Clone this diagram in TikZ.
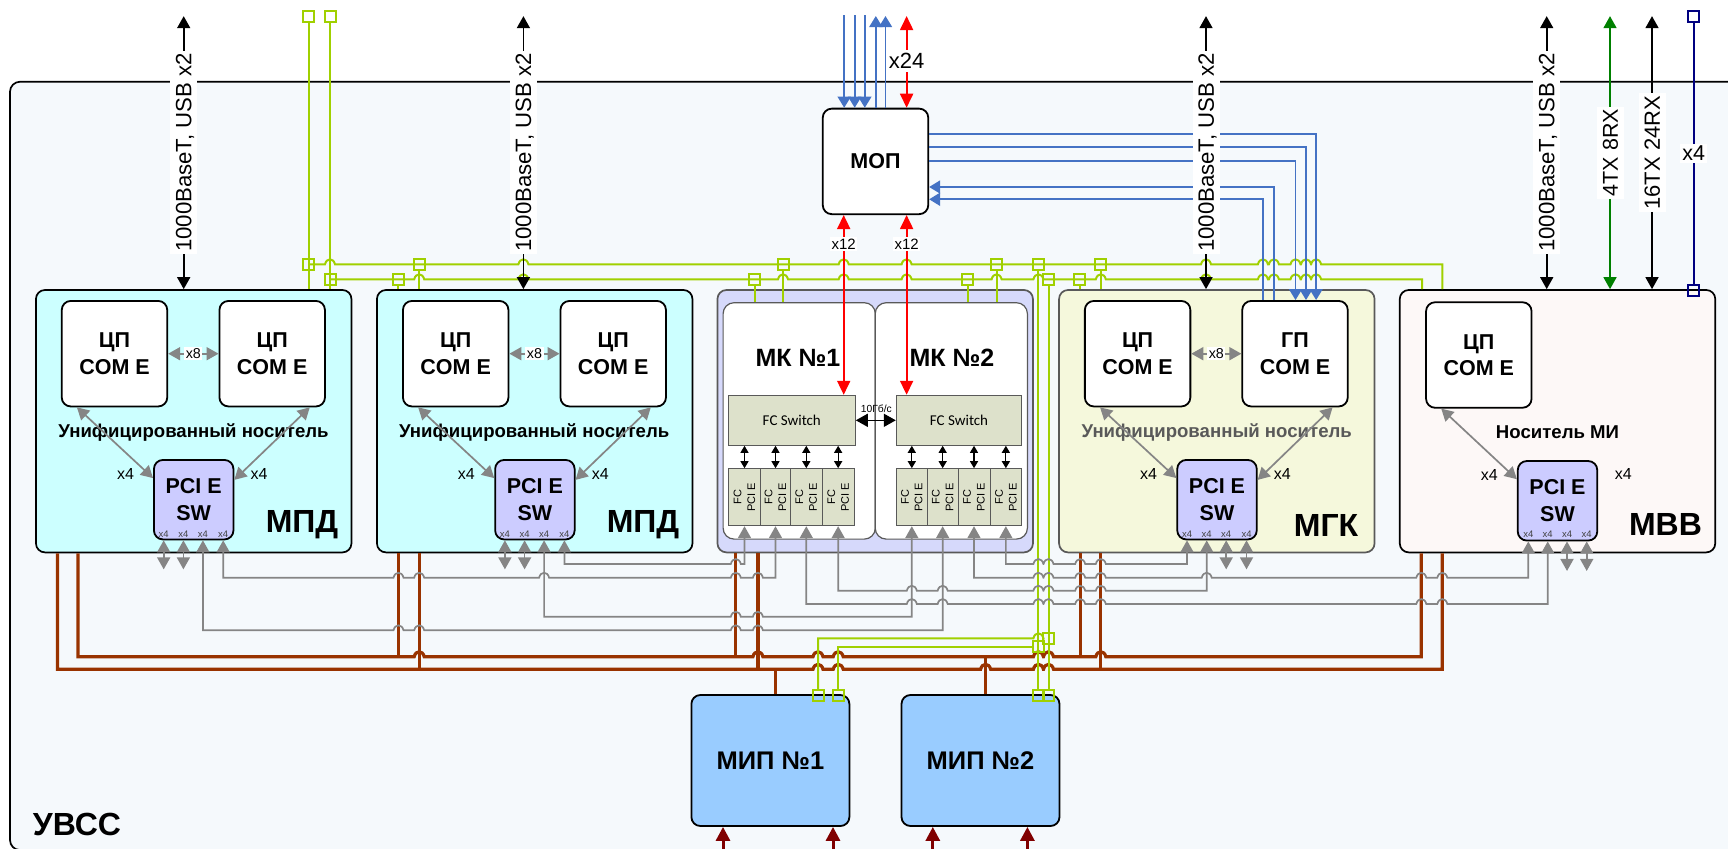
\documentclass[tikz,border=0pt]{standalone}
\usepackage{fontspec}
\setmainfont{Liberation Sans}
\newfontfamily\fcfont{Carlito}
\usetikzlibrary{arrows.meta}
\definecolor{sysfill}{HTML}{F5F9FC}
\definecolor{mpdfill}{HTML}{CCFFFF}
\definecolor{mkfill}{HTML}{D6D9FB}
\definecolor{mgkfill}{HTML}{F5F8DC}
\definecolor{mvvfill}{HTML}{FDF8F7}
\definecolor{mipfill}{HTML}{99CCFF}
\definecolor{swfill}{HTML}{CCCCFF}
\definecolor{fcfill}{HTML}{DDE1CB}
\definecolor{bordgray}{HTML}{595959}
\definecolor{linegray}{HTML}{858585}
\definecolor{linegreen}{HTML}{A0D000}
\definecolor{linebrown}{HTML}{993300}
\definecolor{lineblue}{HTML}{4472C4}
\definecolor{linedkgreen}{HTML}{008000}
\definecolor{linedkred}{HTML}{800000}
% hops of a horizontal line: y, then x of each crossing
\newcommand{\hops}[2]{\foreach \h in {#2} {-- (\h-5,#1) .. controls (\h-3.5,#1-6.6) and (\h+3.5,#1-6.6) .. (\h+5,#1)}}
\tikzset{
  sysbox/.style={draw=black, fill=sysfill, line width=1.7pt, rounded corners=10pt, minimum width=1730, minimum height=768.3},
  modbox/.style={draw=black, line width=1.7pt, rounded corners=9pt, minimum width=315.5, minimum height=262.4, inner sep=0pt},
  cpubox/.style={draw=black, fill=white, line width=1.8pt, rounded corners=9pt, minimum width=105.5, minimum height=105.5, inner sep=0pt, align=center, font=\bfseries\fontsize{21.5}{26.5}\selectfont},
  swbox/.style={draw=black, fill=swfill, line width=1.8pt, rounded corners=9pt, minimum width=79.5, minimum height=79.5, inner sep=0pt, align=center, font=\bfseries\fontsize{21.5}{27}\selectfont},
  mipbox/.style={draw=black, fill=mipfill, line width=1.8pt, rounded corners=9pt, minimum width=158, minimum height=131, inner sep=0pt, align=center, font=\bfseries\fontsize{25.5}{30}\selectfont},
  mkinner/.style={draw=bordgray, fill=white, line width=1.2pt, rounded corners=11pt, minimum width=152.2, minimum height=236.4, inner sep=0pt},
  fsbox/.style={draw=bordgray, fill=fcfill, line width=1pt, minimum height=50, inner sep=0pt, font=\fcfont\fontsize{15}{17}\selectfont},
  fccell/.style={draw=bordgray, fill=fcfill, line width=1pt, rotate=90, minimum width=57, inner sep=0pt, align=center, font=\fontsize{11}{13.7}\selectfont},
  modname/.style={font=\bfseries\fontsize{32}{36}\selectfont, inner sep=0pt},
  mkname/.style={font=\bfseries\fontsize{25}{30}\selectfont, inner sep=0pt},
  carrier/.style={font=\bfseries\fontsize{18.6}{21}\selectfont, inner sep=0pt},
  xside/.style={font=\fontsize{16}{18}\selectfont, inner sep=0pt},
  xtiny/.style={text=black!75, font=\fontsize{9.5}{10}\selectfont, inner sep=0pt},
  xwhite/.style={fill=white, inner sep=1.5pt, font=\fontsize{14.3}{16}\selectfont},
  extlabel/.style={fill=white, rotate=90, inner xsep=2.5pt, inner ysep=0pt, minimum height=27, text height=15.5pt, text depth=0pt, font=\fontsize{21.5}{24}\selectfont},
  grayline/.style={draw=linegray, line width=1.7pt, >={Triangle[length=12pt,width=13pt]}},
  greenline/.style={draw=linegreen, line width=2pt},
  gsq/.style={draw=linegreen, line width=2pt, minimum size=11, inner sep=0pt},
  nsq/.style={draw=blue!50!black, line width=1.8pt, minimum size=11, inner sep=0pt},
  brownline/.style={draw=linebrown, line width=3.2pt},
  blueline/.style={draw=lineblue, line width=1.7pt, >={Triangle[length=11pt,width=13pt]}},
  redline/.style={draw=red, line width=1.8pt, >={Triangle[length=14pt,width=13pt]}},
  blackline/.style={draw=black, line width=1.6pt, >={Triangle[length=12pt,width=13pt]}},
  fcarrow/.style={draw=black, line width=1.2pt, >={Triangle[length=7pt,width=8pt]}},
  dkredline/.style={draw=linedkred, line width=3pt, >={Triangle[length=14pt,width=14pt]}},
}
\begin{document}
\begin{tikzpicture}[x=1pt,y=-1pt]
  \useasboundingbox (0,0) rectangle (1728,848);
  \clip (0,0) rectangle (1728,848);
  \fill[white] (0,0) rectangle (1728,848);
  % Корпус
  \node[sysbox] (uvss) at (875,465.9) {};
  \node[modname] (uvssname) at (77,824) {УВСС};
  % Модули
  \node[modbox, fill=mpdfill] (mpd1) at (193.7,421.2) {};
  \node[modbox, fill=mpdfill] (mpd2) at (534.7,421.2) {};
  \node[modbox, fill=mkfill, draw=bordgray] (mk) at (875.2,421.2) {};
  \node[modbox, fill=mgkfill, draw=bordgray] (mgk) at (1216.8,421.2) {};
  \node[modbox, fill=mvvfill] (mvv) at (1557.5,421.2) {};
  \node[modname] (name1) at (302,525) {МПД};
  \node[modname] (name2) at (643,525) {МПД};
  \node[modname] (name3) at (1326,525) {МГК};
  \node[modname] (name4) at (1665.5,524) {МВВ};
  \node[carrier] (car1) at (193.5,432.3) {Унифицированный носитель};
  \node[carrier] (car2) at (534.2,432.3) {Унифицированный носитель};
  \node[carrier, text=bordgray] (car3) at (1216.7,432.3) {Унифицированный носитель};
  \node[carrier] (car4) at (1557.5,431.7) {Носитель МИ};
  % ЦП и коммутаторы
  \foreach \m/\xa/\xb/\xs/\ttl/\xl/\xr in {1/114.5/272.2/193.7/ЦП/125.6/259,
                                  2/455.7/613.2/534.9/ЦП/466.2/600.3,
                                  3/1137.6/1295/1217/ГП/1148.5/1282.4} {
    \node[cpubox] (cpa\m) at (\xa,353.7) {ЦП\\COM E};
    \node[cpubox] (cpb\m) at (\xb,353.7) {\ttl\\COM E};
    \node[swbox] (sw\m) at (\xs,499.7) {PCI E\\SW};
    \foreach \p/\dx in {a/-30,b/-10.3,c/9.2,d/29.5}
      \node[xtiny] (sw\m\p) at ([xshift=\dx,yshift=-34.3]sw\m.center) {x4};
    \node[xside] (xl\m) at (\xl,473.5) {x4};
    \node[xside] (xr\m) at (\xr,474.2) {x4};
    \draw[grayline,<->] (cpa\m.east) -- (cpb\m.west) node[midway, xwhite] (xc\m) {x8};
    \draw[grayline,<->] (cpa\m.235) -- (sw\m.152);
    \draw[grayline,<->] (cpb\m.305) -- (sw\m.26);
  }
  \node[cpubox] (cpa4) at (1478.8,355) {ЦП\\COM E};
  \node[swbox] (sw4) at (1557.5,500.8) {PCI E\\SW};
  \foreach \p/\dx in {a/-29.2,b/-9.8,c/9.5,d/29.2}
    \node[xtiny] (sw4\p) at ([xshift=\dx,yshift=-33.2]sw4.center) {x4};
  \node[xside] (xl4) at (1489.3,474.7) {x4};
  \node[xside] (xr4) at (1623.3,473.7) {x4};
  \draw[grayline,<->] (cpa4.235) -- (sw4.152);
  % МК
  \node[mkinner] (mki1) at (799.2,420.9) {};
  \node[mkinner] (mki2) at (951.3,420.9) {};
  \node[mkname] (mkn1) at (798,357.7) {МК №1};
  \node[mkname] (mkn2) at (952,357.7) {МК №2};
  \node[fsbox, minimum width=127] (fsa) at (791.8,420.3) {FC Switch};
  \node[fsbox, minimum width=125.4] (fsb) at (959,420.3) {FC Switch};
  \foreach \n/\x/\w in {a1/744.5/32.4, a2/775.5/29.6, a3/806.3/32, a4/838.15/31.7,
                        b1/911.8/31, b2/942.65/30.7, b3/974/32, b4/1005.85/31.7}
    \node[fccell, minimum height=\w] (fc\n) at (\x,497.2) {FC\\PCI E};
  \foreach \n/\s in {a1/fsa, a2/fsa, a3/fsa, a4/fsa, b1/fsb, b2/fsb, b3/fsb, b4/fsb}
    \draw[fcarrow,<->] (fc\n.east) -- (fc\n.east |- \s.south);
  \draw[blackline,<->] (fsa.east) -- (fsb.west);
  \node[inner sep=0pt, font=\fontsize{10.3}{12}\selectfont] (fsrate) at (876.3,408.3) {10Гб/с};
  % МИП и МОП
  \node[mipbox] (mip1) at (770.4,760.5) {МИП №1};
  \node[mipbox] (mip2) at (980.5,760.5) {МИП №2};
  \node[cpubox] (mop) at (875.5,161.4) {МОП};
  % Питание
  \draw[brownline] ([xshift=-136.3]mpd1.south) -- (57.4,669.3) \hops{669.3}{818,838.2,985.6,1038.4,1048.5}
        -- (1442.3,669.3) -- ([xshift=-115.2]mvv.south);
  \draw[brownline] ([xshift=-115.7]mpd1.south) -- (78,656.7) \hops{656.7}{419.2,757.9,818,838.2,1038.4,1048.5,1100.8}
        -- (1421.3,656.7) -- ([xshift=-136.2]mvv.south);
  \foreach \n/\dx in {mpd2/-136.2, mk/-139.4, mgk/-136.6}
    \draw[brownline] ([xshift=\dx]\n.south) -- ++(0,104.4);
  \foreach \n/\dx in {mpd2/-115.5, mk/-117.3, mgk/-116}
    \draw[brownline] ([xshift=\dx]\n.south) -- ++(0,117);
  \draw[brownline] ([xshift=5.4]mip1.north) -- ++(0,-26);
  \draw[brownline] ([xshift=5.1]mip2.north) -- ++(0,-38.6);
  \foreach \n/\dx in {mip1/-47.4, mip1/62.6, mip2/-47.7, mip2/46.9}
    \draw[dkredline,<-] ([xshift=\dx]\n.south) -- ++(0,30);
  % Зелёные линии
  \node[gsq] (gt1) at (308.5,16.3) {};
  \node[gsq] (gt2) at (330,16.3) {};
  \node[gsq] (g1) at (308.5,264.3) {};
  \node[gsq] (g2) at (330,279.3) {};
  \draw[greenline] (gt1.south) -- (gt1 |- mpd1.north);
  \draw[greenline] (gt2.south) -- (gt2 |- mpd1.north);
  \draw[greenline] (g1.center) \hops{264.3}{330,523.4,843.7,906.6,1206,1262.9,1273.9,1295.5,1306,1316.1}
        -- (1442.3,264.3) -- ([xshift=-115.2]mvv.north);
  \draw[greenline] (g2.center) \hops{279.3}{419.2,523.4,783,843.7,906.6,996.6,1038.4,1100.8,1206,1262.9,1273.9,1295.5,1306,1316.1}
        -- (1422,279.3) -- ([xshift=-135.5]mvv.north);
  \foreach \n/\x/\y/\e in {u1/419.2/264.3/mpd2.north, u2/783/264.3/mki1.north, u3/996.6/264.3/mki2.north,
                           u5/1100.8/264.3/mgk.north, l1/398/279.3/mpd2.north, l2/754.6/279.3/mki1.north,
                           l3/967.7/279.3/mki2.north, l5/1079.7/279.3/mgk.north} {
    \node[gsq] (g\n) at (\x,\y) {};
    \draw[greenline] (g\n.south) -- (g\n |- \e);
  }
  \node[gsq] (gu4) at (1038.4,264.3) {};
  \node[gsq] (gl4) at (1048.5,279.3) {};
  \node[gsq] (gm1) at (1048.5,638.3) {};
  \node[gsq] (gm2) at (1038.4,646.7) {};
  \node[gsq] (gb0) at (818,695.5) {};
  \node[gsq] (gb1) at (838.2,695.5) {};
  \node[gsq] (gb2) at (1038.4,695.5) {};
  \node[gsq] (gb3) at (1048.5,695.5) {};
  \draw[greenline] (gu4.south) -- (gb2.north);
  \draw[greenline] (gl4.south) -- (gb3.north);
  \draw[greenline] (gb0.north) -- (818,638.3) \hops{638.3}{1038.4} -- (gm1.west);
  \draw[greenline] (gb1.north) -- (838.2,646.7) -- (gm2.west);
  % Серые линии PCI E
  \foreach \n in {sw1a, sw1b}
    \draw[grayline,<->] (\n |- sw1.south) -- ++(0,29);
  \foreach \n in {sw2a, sw2b}
    \draw[grayline,<->] (\n |- sw2.south) -- ++(0,29);
  \foreach \n in {sw3c, sw3d}
    \draw[grayline,<->] (\n |- sw3.south) -- ++(0,29);
  \foreach \n in {sw4c, sw4d}
    \draw[grayline,<->] (\n |- sw4.south) -- ++(0,29.5);
  \draw[grayline,<->] (sw2d |- sw2.south) -- (564.4,564) \hops{564}{735.8} -- (744.5,564) -- (fca1.west);
  \draw[grayline,<->] (fcb4.west) -- (1005.85,564) \hops{564}{1038.4,1048.5,1080.2,1100.8} -- (1187,564) -- (sw3a |- sw3.south);
  \draw[grayline,<->] (sw1d |- sw1.south) -- (223.2,577.7) \hops{577.7}{398.5,419.2,544.1,735.8,757.9} -- (775.5,577.7) -- (fca2.west);
  \draw[grayline,<->] (fcb3.west) -- (974,577.7) \hops{577.7}{1038.4,1048.5,1080.2,1100.8,1206.7,1421.3,1442.3} -- (1528.3,577.7) -- (sw4a |- sw4.south);
  \draw[grayline,<->] (fca4.west) -- (838.15,590.7) \hops{590.7}{911.8,942.65,1038.4,1048.5,1080.2,1100.8} -- (1206.7,590.7) -- (sw3b |- sw3.south);
  \draw[grayline,<->] (fca3.west) -- (806.3,604) \hops{604}{911.8,942.65,1038.4,1048.5,1080.2,1100.8,1421.3,1442.3} -- (1547.7,604) -- (sw4b |- sw4.south);
  \draw[grayline,<->] (sw2c |- sw2.south) -- (544.1,616.7) \hops{616.7}{735.8,757.9} -- (911.8,616.7) -- (fcb1.west);
  \draw[grayline,<->] (sw1c |- sw1.south) -- (202.9,630.3) \hops{630.3}{398.5,419.2,735.8,757.9} -- (942.65,630.3) -- (fcb2.west);
  % МОП: синие и красные
  \foreach \dx in {-31.3,-20.8,-10.7}
    \draw[blueline,<-] ([xshift=\dx]mop.north) -- ++(0,-92.7);
  \foreach \dx in {0.3,10}
    \draw[blueline,->] ([xshift=\dx]mop.north) -- ++(0,-91.7);
  \foreach \dy/\dx in {27.1/21.1, 14.7/11, 0.7/0.5}
    \draw[blueline,->] ([yshift=\dy]mop.east) -| ([xshift=\dx]cpb3.north);
  \foreach \dy/\dx in {-25.6/-21, -37.9/-32}
    \draw[blueline,<-] ([yshift=\dy]mop.east) -| ([xshift=\dx]cpb3.north);
  \draw[redline,<->] ([xshift=31.1]mop.north) -- ++(0,-91.7)
        node[pos=0.51, fill=white, inner xsep=1.5pt, inner ysep=3pt, font=\fontsize{22}{24}\selectfont] (x24ext) {x24};
  \draw[redline,<->] ([xshift=-31.8]mop.south) -- ([xshift=51.9]fsa.north)
        node[pos=0.16, fill=white, inner sep=1.5pt, font=\fontsize{15}{17}\selectfont] (x12a) {x12};
  \draw[redline,<->] ([xshift=31.1]mop.south) -- ([xshift=-52.4]fsb.north)
        node[pos=0.16, fill=white, inner sep=1.5pt, font=\fontsize{15}{17}\selectfont] (x12b) {x12};
  % Внешние связи
  \foreach \n/\dx in {mpd1/-10, mpd2/-11.3, mgk/-10.8, mvv/-10.8}
    \draw[blackline,<->] ([xshift=\dx]\n.north) -- ++(0,-273)
        node[pos=0.5, extlabel, font=\fontsize{22.2}{24}\selectfont] (usb\n) {1000BaseT, USB x2};
  \draw[blackline,<->, draw=linedkgreen, color=linedkgreen] ([xshift=52.5]mvv.north) -- ++(0,-273)
        node[pos=0.5, extlabel, text=black] (txa) {4TX 8RX};
  \draw[blackline,<->] ([xshift=94.5]mvv.north) -- ++(0,-273)
        node[pos=0.5, extlabel, font=\fontsize{22}{24}\selectfont] (txb) {16TX 24RX};
  \node[nsq] (nt) at (1693.7,16.3) {};
  \node[nsq] (nb) at (1693.7,290.7) {};
  \draw[draw=blue!50!black, line width=1.8pt] (nt.south) -- (nb.north)
        node[pos=0.5, fill=white, inner sep=2pt, font=\fontsize{21.5}{24}\selectfont] (x4ext) {x4};
\end{tikzpicture}
\end{document}
